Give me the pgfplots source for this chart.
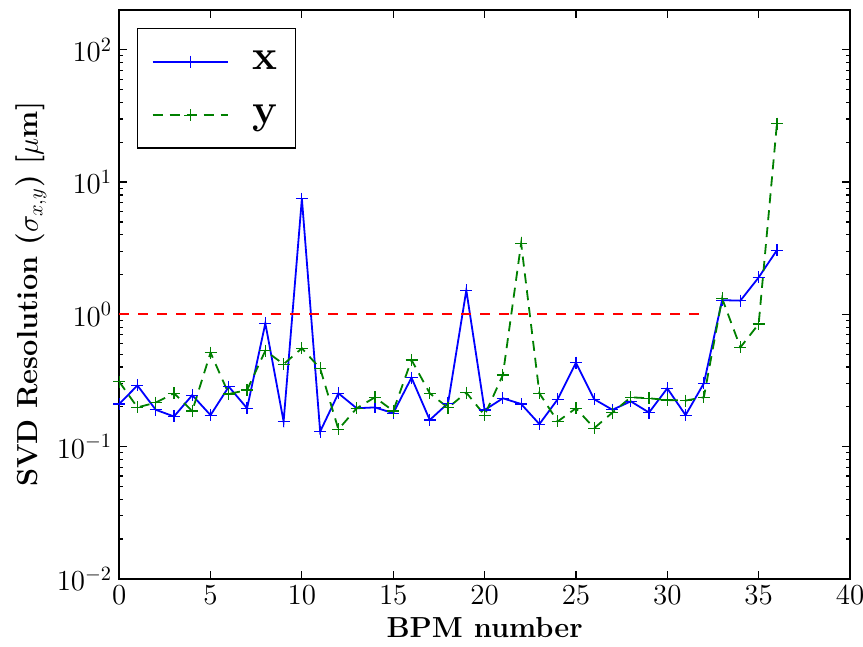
\RequirePackage{fix-cm}
\documentclass[border=0pt]{standalone}
\usepackage{pgfplots}
\pgfplotsset{compat=1.18}
\definecolor{mplgreen}{rgb}{0,0.5,0}
\begin{document}
\begin{tikzpicture}
\begin{axis}[
  scale only axis, width=365.5pt, height=284.5pt,
  xmin=0, xmax=40, ymode=log, ymin=1e-2, ymax=200,
  xtick={0,5,...,40},
  ytick={1e-2,1e-1,1,10,100},
  tick align=inside, tick pos=both,
  major tick length=4pt, minor tick length=2pt,
  every tick/.style={black, line width=0.6pt},
  axis line style={line width=0.75pt},
  tick label style={font=\fontsize{14.5}{16}\selectfont},
  xlabel={BPM number},
  ylabel={SVD Resolution ($\sigma_{x,y}$) [$\mu$m]},
  label style={font=\fontsize{14.5}{17}\selectfont\bfseries},
  xlabel style={at={(axis description cs:0.5,0)}, anchor=base, yshift=-29.5pt},
  ylabel style={at={(axis description cs:0,0.5)}, anchor=center, xshift=0pt, yshift=44pt},
  legend style={at={(axis description cs:0.0246,0.968)}, anchor=north west,
    font=\fontsize{21}{24}\selectfont\bfseries, draw=black, line width=0.6pt,
    inner xsep=7pt, inner ysep=9pt, row sep=12pt,
    /tikz/every odd column/.append style={column sep=10pt}},
  legend cell align=left,
  legend image code/.code={\draw[mark repeat=2, mark phase=2, #1] plot coordinates {(0pt,0pt) (18.75pt,0pt) (37.5pt,0pt)};},
]
\addplot[blue, line width=0.9pt, mark=+, mark size=3pt, mark options={solid, line width=0.6pt}] coordinates {
(0,0.21) (1,0.29) (2,0.19) (3,0.169) (4,0.245) (5,0.173) (6,0.284) (7,0.195) (8,0.855) (9,0.155)
(10,7.5) (11,0.130) (12,0.253) (13,0.195) (14,0.198) (15,0.179) (16,0.332) (17,0.159) (18,0.213) (19,1.52)
(20,0.189) (21,0.232) (22,0.21) (23,0.148) (24,0.228) (25,0.431) (26,0.228) (27,0.19) (28,0.220) (29,0.181)
(30,0.276) (31,0.173) (32,0.301) (33,1.28) (34,1.27) (35,1.90) (36,3.06)
};
\addlegendentry{x}
\addplot[mplgreen, line width=0.9pt, dash pattern=on 5pt off 3.5pt, mark=+, mark size=3pt, mark options={solid, line width=0.6pt}] coordinates {
(0,0.31) (1,0.198) (2,0.215) (3,0.253) (4,0.186) (5,0.513) (6,0.25) (7,0.268) (8,0.531) (9,0.42)
(10,0.554) (11,0.39) (12,0.135) (13,0.195) (14,0.236) (15,0.186) (16,0.452) (17,0.253) (18,0.197) (19,0.256)
(20,0.173) (21,0.348) (22,3.44) (23,0.253) (24,0.155) (25,0.195) (26,0.138) (27,0.181) (28,0.236) (29,0.232)
(30,0.225) (31,0.223) (32,0.236) (33,1.32) (34,0.563) (35,0.845) (36,27.7)
};
\addlegendentry{y}
\addplot[red, line width=0.9pt, dash pattern=on 5pt off 4.5pt, forget plot] coordinates {(0,1) (32,1)};
\end{axis}
\pgfresetboundingbox
\path ([shift={(-59.6pt,-34pt)}]current axis.south west) rectangle ([shift={(6.5pt,5pt)}]current axis.north east);
\end{tikzpicture}
\end{document}
